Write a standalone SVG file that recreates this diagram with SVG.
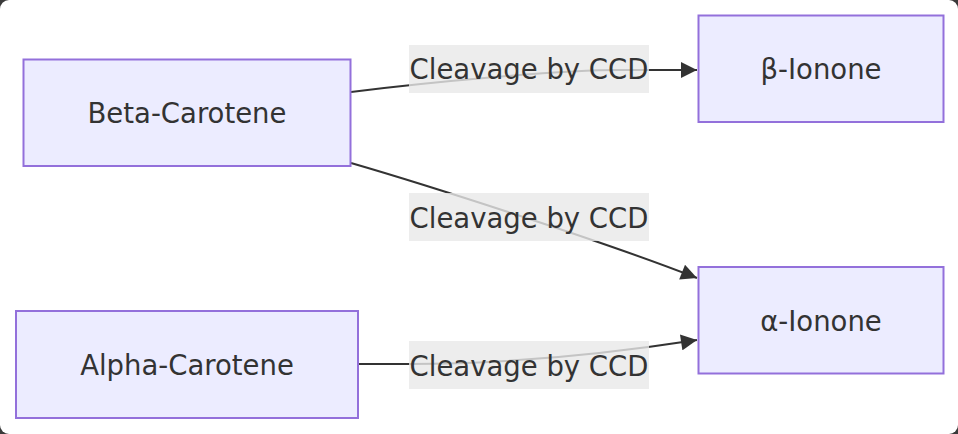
<svg xmlns="http://www.w3.org/2000/svg" width="958" height="434" viewBox="0 0 958 434">
<style>
.node rect{fill:#ECECFF;stroke:#9370DB;stroke-width:2}
.node text,.label text{font-family:"DejaVu Sans",sans-serif;font-size:27.5px;fill:#333;text-anchor:middle}
.edge{fill:none;stroke:#333;stroke-width:2}
.label rect{fill:rgba(232,232,232,0.8)}
</style>
<defs>
<marker id="arrow" viewBox="0 0 10 10" refX="10" refY="5" markerWidth="19" markerHeight="16" markerUnits="userSpaceOnUse" orient="auto">
<path d="M0,0 L10,5 L0,10 z" fill="#333"/>
</marker>
</defs>
<rect x="0" y="0" width="958" height="434" fill="#3a3a3a"/>
<rect x="0" y="0" width="958" height="434" rx="9" fill="#ffffff"/>
<g id="connectors">
<path class="edge" d="M351,92 C430,82 560,70 620,70 L697,70" marker-end="url(#arrow)"/>
<path class="edge" d="M351,163 C420,183 600,240 697,278" marker-end="url(#arrow)"/>
<path class="edge" d="M359,364 L409,364 C500,364 600,355 697,340" marker-end="url(#arrow)"/>
</g>
<g id="labels">
<g class="label"><rect x="409" y="45" width="240" height="48"/><text x="529" y="79.3">Cleavage by CCD</text></g>
<g class="label"><rect x="409" y="193" width="240" height="48"/><text x="529" y="227.5">Cleavage by CCD</text></g>
<g class="label"><rect x="409" y="341" width="240" height="48"/><text x="529" y="375.8">Cleavage by CCD</text></g>
</g>
<g id="beta-carotene" class="node"><rect x="23.5" y="59.5" width="327" height="106.5"/><text x="187" y="123.3">Beta-Carotene</text></g>
<g id="beta-ionone" class="node"><rect x="698.5" y="15.5" width="245" height="106.5"/><text x="821" y="79.3">β-Ionone</text></g>
<g id="alpha-ionone" class="node"><rect x="698.5" y="267" width="245" height="106.5"/><text x="821" y="331.3">α-Ionone</text></g>
<g id="alpha-carotene" class="node"><rect x="16" y="311" width="342" height="107"/><text x="187" y="375.3">Alpha-Carotene</text></g>
</svg>
